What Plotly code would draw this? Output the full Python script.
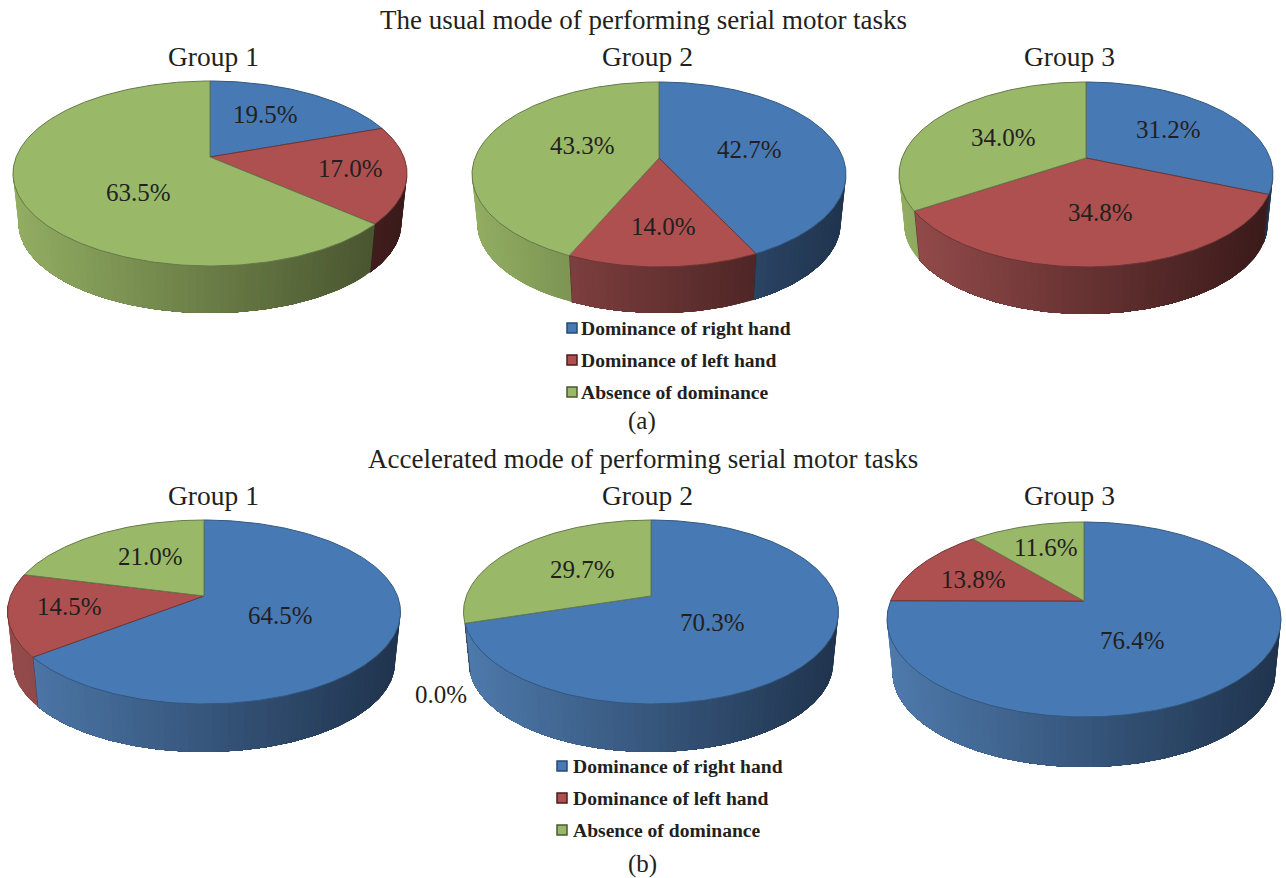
import numpy as np
import plotly.graph_objects as go

# Shares of hand dominance, percent, per group and performing mode
groups = ["Group 1", "Group 2", "Group 3"]
series_names = ["Dominance of right hand", "Dominance of left hand", "Absence of dominance"]
usual_right = [19.5, 42.7, 31.2]
usual_left = [17.0, 14.0, 34.8]
usual_none = [63.5, 43.3, 34.0]
accel_right = [64.5, 70.3, 76.4]
accel_left = [14.5, 0.0, 13.8]
accel_none = [21.0, 29.7, 11.6]

FONT = "Liberation Serif"
INK = "#231f20"
TOP = [(71, 121, 181), (174, 80, 79), (153, 185, 105)]
SIDE_LIGHT = [(78, 122, 172), (150, 76, 76), (146, 174, 98)]
SIDE_DARK = [(32, 52, 78), (58, 26, 26), (68, 78, 44)]
EDGE = ["#33587f", "#6f3534", "#66794a"]

# Pie frames: apex x, apex y, half width, top, front rim, lower rim
frames_usual = [(210, 157, 197, 81, 266, 313),
                (659, 158, 187, 82, 267, 313),
                (1086, 158, 187, 82, 267, 314)]
frames_accel = [(204, 596, 196.5, 520, 704, 752),
                (651, 596, 187.5, 520, 704, 752),
                (1084, 601, 197, 522, 717, 767)]

# Label centres, one row per group in series order
labels_usual = [[(265, 114), (350, 168), (138, 192)],
                [(749, 149), (663, 226), (582, 145)],
                [(1168, 129), (1100, 212), (1003, 137)]]
labels_accel = [[(280, 615), (69, 606), (150, 556)],
                [(712, 622), (441, 694), (582, 569)],
                [(1132, 640), (973, 579), (1046, 547)]]

SHRINK = 0.972


def projector(frame):
    """Perspective mapping from pie angle (clockwise from 12 o'clock) to the page."""
    x0, y0, half, top, front, lower = frame
    up, down = y0 - top, front - y0
    k = (down - up) / (down + up)
    b = up * (1 + k)
    a = half * np.sqrt(1 - k * k)
    drop = (lower - y0) - SHRINK * down

    def upper(theta):
        u, v = np.sin(theta), np.cos(theta)
        w = 1 + k * v
        return x0 + a * u / w, y0 - b * v / w

    def under(theta):
        x, y = upper(theta)
        return x0 + (x - x0) * SHRINK, y0 + (y - y0) * SHRINK + drop

    return upper, under, x0 - half, x0 + half


def blend(c1, c2, t):
    t = min(max(t, 0.0), 1.0)
    return "rgb(%d,%d,%d)" % tuple(round(p + (q - p) * t) for p, q in zip(c1, c2))


fig = go.Figure()


def add_pie(values, frame):
    upper, under, left, right = projector(frame)
    edges = np.cumsum([0.0] + list(values)) / sum(values) * 2 * np.pi
    lo_front, hi_front = np.radians(98), np.radians(264)

    # Outer wall first; each band overlaps the rest of its slice so no seams show
    for i in range(3):
        if values[i] <= 0:
            continue
        start, stop = max(edges[i], lo_front), min(edges[i + 1], hi_front)
        if np.degrees(stop - start) < 12:
            continue
        starts = np.arange(start, stop - 1e-6, np.radians(2))
        for a1 in starts:
            ts = np.linspace(a1, stop, max(2, int(np.degrees(stop - a1)) + 1))
            xt, yt = upper(ts)
            xb, yb = under(ts[::-1])
            tone = (xt[0] - left) / (right - left)
            colour = blend(SIDE_DARK[i], SIDE_LIGHT[i], 1 - tone)
            fig.add_trace(go.Scatter(
                x=np.r_[xt, xb, xt[0]], y=np.r_[yt, yb, yt[0]],
                mode="lines", fill="toself", fillcolor=colour,
                line=dict(width=0), hoverinfo="skip"))
        # Seam on the wall where this slice ends, if it ends on the front
        if edges[i + 1] < hi_front and i < 2:
            xt, yt = upper(edges[i + 1])
            xb, yb = under(edges[i + 1])
            fig.add_trace(go.Scatter(x=[xt, xb], y=[yt, yb], mode="lines",
                                     line=dict(color="rgba(40,30,30,0.55)", width=1),
                                     hoverinfo="skip"))

    # Top face wedges
    x0, y0 = frame[0], frame[1]
    for i in range(3):
        if values[i] <= 0:
            continue
        ts = np.linspace(edges[i], edges[i + 1], max(3, int(values[i] * 4)))
        xa, ya = upper(ts)
        fig.add_trace(go.Scatter(
            x=np.r_[x0, xa, x0], y=np.r_[y0, ya, y0],
            mode="lines", fill="toself",
            fillcolor="rgb(%d,%d,%d)" % TOP[i],
            line=dict(color=EDGE[i], width=1), hoverinfo="skip"))


def note(text, x, y, size, anchor="center", bold=False):
    fig.add_annotation(x=x, y=y, text="<b>%s</b>" % text if bold else text,
                       showarrow=False, xanchor=anchor, yanchor="middle",
                       font=dict(family=FONT, size=size, color=INK))


def add_panel(rows, frames, label_spots, title, title_y, group_y, group_xs):
    note(title, 643, title_y, 27)
    for g, name in enumerate(groups):
        note(name, group_xs[g], group_y, 27.5)
        vals = [rows[s][g] for s in range(3)]
        add_pie(vals, frames[g])
        for s in range(3):
            note("%.1f%%" % vals[s], label_spots[g][s][0], label_spots[g][s][1], 25)


def add_key(mark_x, text_x, ys):
    fig.add_trace(go.Scatter(
        x=[mark_x] * 3, y=ys, mode="markers", hoverinfo="skip",
        marker=dict(symbol="square", size=10,
                    color=["rgb(%d,%d,%d)" % c for c in TOP],
                    line=dict(color=["#274a73", "#4a1c1c", "#4a5a30"], width=1.5))))
    for name, y in zip(series_names, ys):
        note(name, text_x, y, 19.6, anchor="left", bold=True)


add_panel([usual_right, usual_left, usual_none], frames_usual, labels_usual,
          "The usual mode of performing serial motor tasks", 20, 56, [213, 647, 1069])
add_panel([accel_right, accel_left, accel_none], frames_accel, labels_accel,
          "Accelerated mode of performing serial motor tasks", 459, 495, [213, 647, 1069])

add_key(572, 579, [328, 360, 392])
add_key(562, 571, [766, 798, 830])
note("(a)", 642, 421, 25)
note("(b)", 642, 864, 25)

fig.update_layout(
    width=1286, height=878, autosize=False,
    margin=dict(l=0, r=0, t=0, b=0),
    paper_bgcolor="white", plot_bgcolor="white",
    showlegend=False, hovermode=False,
    xaxis=dict(range=[0, 1286], visible=False, fixedrange=True),
    yaxis=dict(range=[878, 0], visible=False, fixedrange=True),
)
fig.write_html("out.html", config=dict(displayModeBar=False))
